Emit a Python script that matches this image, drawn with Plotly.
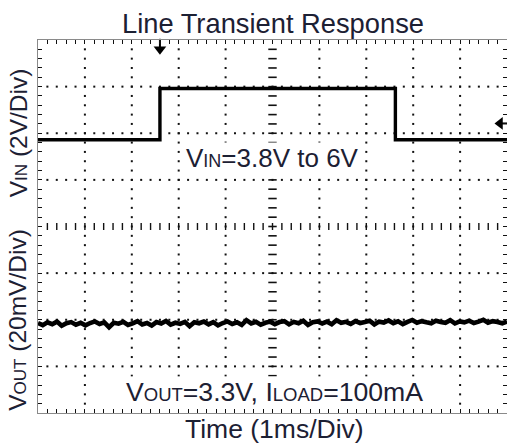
import numpy as np
import plotly.graph_objects as go

# ---------------- data ----------------
vin_time_ms = [0.0, 2.6, 2.6, 7.62, 7.62, 10.0]
vin_volts = [3.8, 3.8, 6.0, 6.0, 3.8, 3.8]
vin_v_per_div = 2.0
vin_ground_div = 3.96

vout_dev_mv = [
    0.2, -0.7, 0.5, -0.3, 0.8, -1.0, 0.1, 0.6, -0.5, 0.3,
    -0.8, 0.2, 0.9, -0.2, 0.5, -1.6, 0.3, -0.1, 0.7, -0.6,
    0.1, 1.0, -0.4, 0.2, -0.9, 0.6, 0.0, 1.1, -0.5, 0.3,
    -0.2, 0.7, -1.2, 0.5, 0.1, 0.8, -0.4, 0.6, -0.8, 0.2,
    0.9, -0.2, 0.5, -0.6, 1.4, 0.0, 0.7, -0.5, 0.3, 0.8,
    -0.3, 0.6, 1.0, -0.4, 0.7, 0.1, 1.2, -0.6, 0.5, 0.9,
    0.0, 0.8, -0.3, 1.4, 0.3, 0.7, -0.2, 1.0, 0.2, 0.6,
    1.2, -0.4, 0.8, 0.4, 1.3, 0.1, 0.9, -0.3, 0.7, 1.5,
    0.3, 1.0, 0.5, 0.1, 1.2, 0.6, 0.3, 1.4, 0.0, 0.9,
    0.5, 1.2, 0.2, 0.8, 1.6, 0.3, 1.0, 0.6, 0.1, 0.8,
]
vout_mv_per_div = 20.0
vout_ref_div = 1.92

trigger_time_ms = 2.6
trigger_level_v = 4.5

n_hdiv = 10
n_vdiv = 8
minor_per_div = 5

title_text = "Line Transient Response"
vin_label = "V<span style='font-size:17px'>IN</span> (2V/Div)"
vout_label = "V<span style='font-size:17px'>OUT</span> (20mV/Div)"
x_label = "Time (1ms/Div)"
vin_note = "V<span style='font-size:18px'>IN</span>=3.8V to 6V"
vout_note = ("V<span style='font-size:18.5px'>OUT</span>=3.3V, "
             "I<span style='font-size:18.5px'>LOAD</span>=100mA")

# ---------------- derived ----------------
vin_div = [vin_ground_div + v / vin_v_per_div for v in vin_volts]
vout_time_ms = np.linspace(0, n_hdiv, len(vout_dev_mv))
vout_div = [vout_ref_div + d / vout_mv_per_div for d in vout_dev_mv]

step = 1.0 / minor_per_div
gx, gy = [], []
for xv in range(1, n_hdiv):
    if xv == n_hdiv // 2:
        continue
    for k in range(1, n_vdiv * minor_per_div):
        gx.append(xv); gy.append(k * step)
for yv in range(1, n_vdiv):
    if yv == n_vdiv // 2:
        continue
    for k in range(1, n_hdiv * minor_per_div):
        gx.append(k * step); gy.append(yv)

cx_x = [k * step for k in range(1, n_hdiv * minor_per_div)]
cx_y = [n_vdiv / 2] * len(cx_x)
cy_y = [k * step for k in range(1, n_vdiv * minor_per_div)]
cy_x = [n_hdiv / 2] * len(cy_y)

FONT = "Arial, 'Liberation Sans', sans-serif"
TXT = "#1c2033"

fig = go.Figure()
fig.add_trace(go.Scatter(x=gx, y=gy, mode="markers", hoverinfo="skip",
                         marker=dict(symbol="square", size=2, color="#111",
                                     line=dict(width=0))))
fig.add_trace(go.Scatter(x=cx_x, y=cx_y, mode="markers", hoverinfo="skip",
                         marker=dict(symbol="line-ns", size=5,
                                     line=dict(width=1.4, color="#111"))))
fig.add_trace(go.Scatter(x=cy_x, y=cy_y, mode="markers", hoverinfo="skip",
                         marker=dict(symbol="line-ew", size=6,
                                     line=dict(width=1.6, color="#111"))))

fig.add_trace(go.Scatter(x=vin_time_ms, y=vin_div, mode="lines",
                         line=dict(color="black", width=3.4, shape="linear")))
fig.add_trace(go.Scatter(x=vout_time_ms, y=vout_div, mode="lines",
                         line=dict(color="black", width=4.6, simplify=False)))

# trigger markers
trig_level_div = vin_ground_div + trigger_level_v / vin_v_per_div
fig.add_trace(go.Scatter(x=[trigger_time_ms], y=[7.80], mode="markers",
                         cliponaxis=False,
                         marker=dict(symbol="triangle-down", size=11, color="black",
                                     line=dict(width=0))))
fig.add_trace(go.Scatter(x=[trigger_time_ms], y=[7.92], mode="markers",
                         cliponaxis=False,
                         marker=dict(symbol="line-ns", size=7,
                                     line=dict(width=2, color="black"))))
fig.add_trace(go.Scatter(x=[9.85], y=[trig_level_div], mode="markers",
                         cliponaxis=False,
                         marker=dict(symbol="triangle-left", size=11, color="black",
                                     line=dict(width=0))))
fig.add_trace(go.Scatter(x=[9.95], y=[trig_level_div], mode="markers",
                         cliponaxis=False,
                         marker=dict(symbol="line-ew", size=7,
                                     line=dict(width=2, color="black"))))

axis_common = dict(showgrid=False, zeroline=False, showticklabels=False,
                   ticks="inside", ticklen=4, tickwidth=1, tickcolor="#111",
                   showline=True, linecolor="#8a8a8a", linewidth=1,
                   mirror="ticks", tick0=0, dtick=step, fixedrange=True)

fig.update_layout(
    width=507, height=443,
    margin=dict(l=38, r=0, t=40, b=30),
    paper_bgcolor="white", plot_bgcolor="white",
    showlegend=False,
    font=dict(family=FONT, size=26, color=TXT),
    xaxis=dict(range=[0, n_hdiv], **axis_common),
    yaxis=dict(range=[0, n_vdiv], **axis_common),
)

fig.add_annotation(text=title_text, xref="x", yref="paper", x=5.02, y=1,
                   xanchor="center", yanchor="middle", yshift=17,
                   showarrow=False, font=dict(size=27.3, color=TXT))
fig.add_annotation(text=x_label, xref="x", yref="paper", x=5.05, y=0,
                   xanchor="center", yanchor="middle", yshift=-15.5,
                   showarrow=False, font=dict(size=26.5, color=TXT))
fig.add_annotation(text=vin_label, xref="paper", yref="y", x=0, y=6,
                   xanchor="center", yanchor="middle", xshift=-20,
                   textangle=-90, showarrow=False, font=dict(size=24.5, color=TXT))
fig.add_annotation(text=vout_label, xref="paper", yref="y", x=0, y=2,
                   xanchor="center", yanchor="middle", xshift=-20,
                   textangle=-90, showarrow=False, font=dict(size=24.5, color=TXT))
fig.add_annotation(text=vin_note, xref="x", yref="y", x=5, y=5.47,
                   xanchor="center", yanchor="middle", showarrow=False,
                   bgcolor="white", borderpad=0, font=dict(size=26, color=TXT))
fig.add_annotation(text=vout_note, xref="x", yref="y", x=5.04, y=0.44,
                   xanchor="center", yanchor="middle", showarrow=False,
                   bgcolor="white", borderpad=0, font=dict(size=26.6, color=TXT))

fig.write_html(
    "out.html",
    config={"displayModeBar": False},
    post_script="document.body.style.margin='0';"
                "document.documentElement.style.overflow='hidden';",
)
